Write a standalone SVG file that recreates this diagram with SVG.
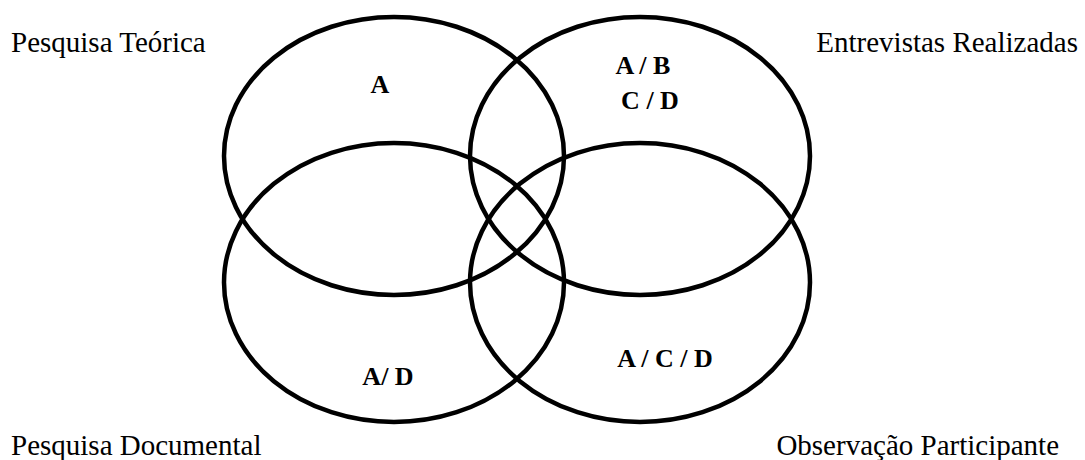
<svg xmlns="http://www.w3.org/2000/svg" width="1085" height="460" viewBox="0 0 1085 460">
<style>
.e{fill:none;stroke:#000;stroke-width:4.5}
.lbl{font-family:"Liberation Serif","Times New Roman",serif;font-size:29px;fill:#000}
.in{font-family:"Liberation Serif","Times New Roman",serif;font-size:26px;font-weight:bold;fill:#000}
</style>
<rect width="1085" height="460" fill="#fff"/>
<g id="teorica">
<ellipse class="e" cx="394" cy="156" rx="170" ry="139"/>
<text class="lbl" x="11" y="52">Pesquisa Teórica</text>
<text class="in" x="380" y="93" text-anchor="middle">A</text>
</g>
<g id="entrevistas">
<ellipse class="e" cx="640" cy="156" rx="170" ry="139"/>
<text class="lbl" x="1078" y="52" text-anchor="end">Entrevistas Realizadas</text>
<text class="in" x="643" y="74" text-anchor="middle">A / B</text>
<text class="in" x="650" y="109" text-anchor="middle">C / D</text>
</g>
<g id="documental">
<ellipse class="e" cx="394" cy="282.5" rx="170" ry="139.5"/>
<text class="lbl" x="11" y="455">Pesquisa Documental</text>
<text class="in" x="388" y="385" text-anchor="middle">A/ D</text>
</g>
<g id="observacao">
<ellipse class="e" cx="640" cy="282.5" rx="170" ry="139.5"/>
<text class="lbl" x="1059" y="455" text-anchor="end">Observação Participante</text>
<text class="in" x="665" y="367" text-anchor="middle">A / C / D</text>
</g>
<g id="connectors"></g>
</svg>
